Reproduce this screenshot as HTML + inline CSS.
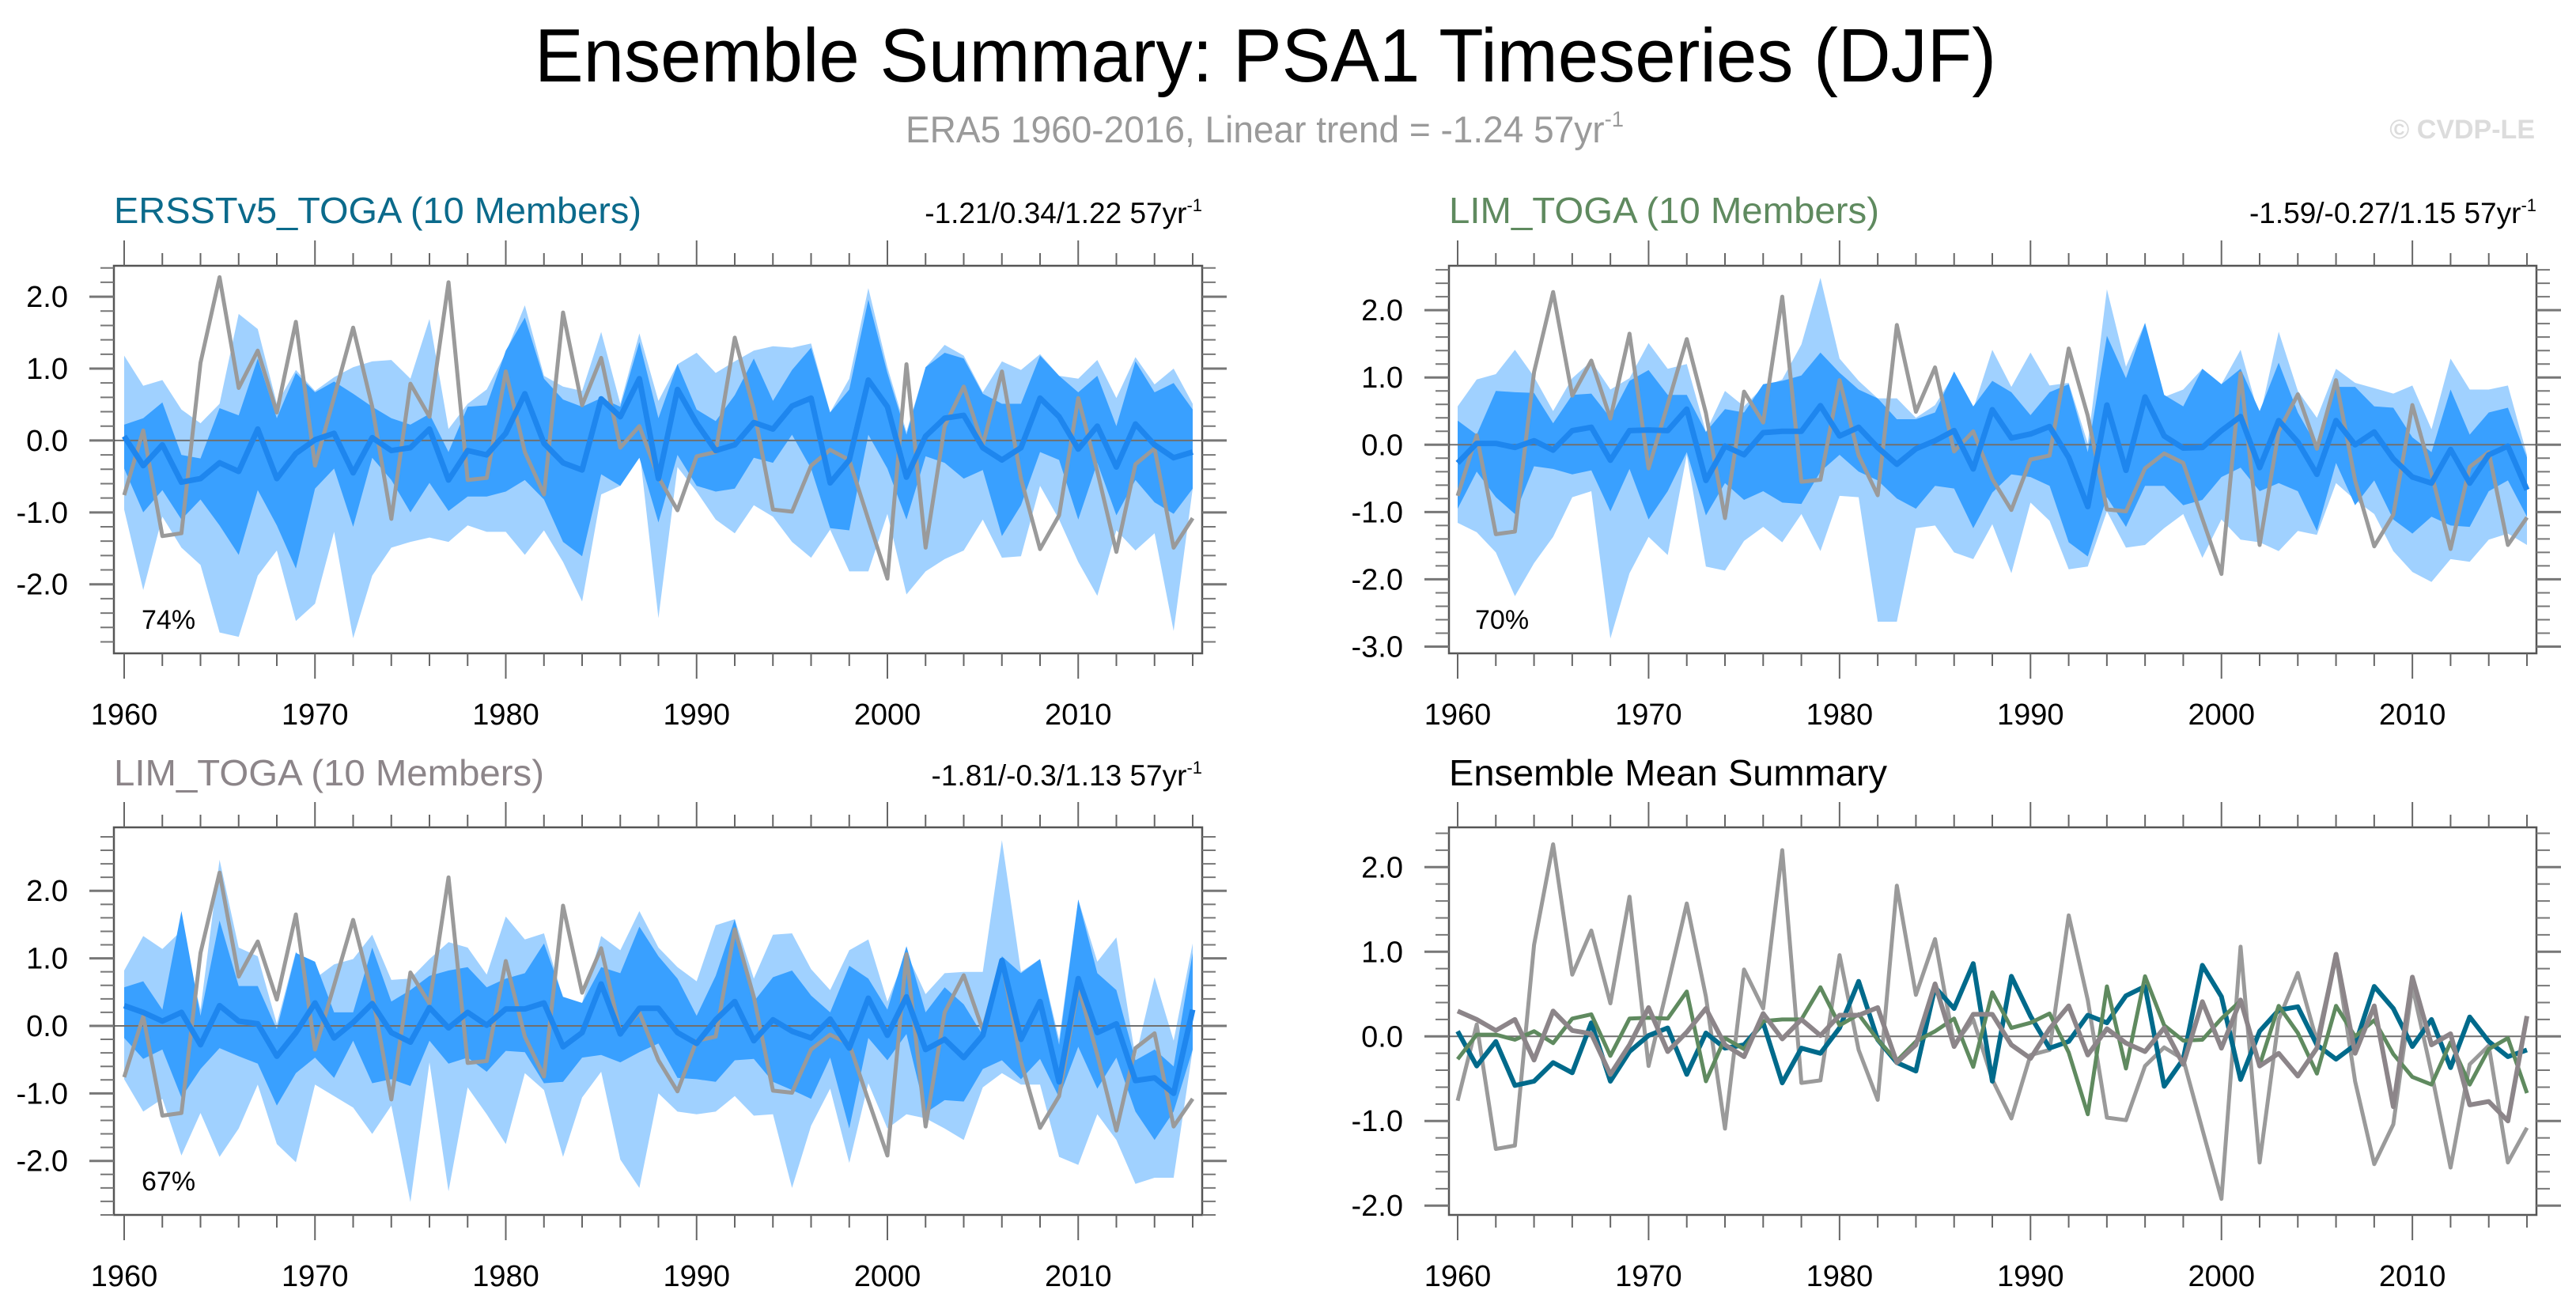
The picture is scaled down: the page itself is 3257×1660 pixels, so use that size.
<!DOCTYPE html>
<html><head><meta charset="utf-8"><title>Ensemble Summary: PSA1 Timeseries (DJF)</title>
<style>html,body{margin:0;padding:0;background:#fff;}svg{display:block;font-family:"Liberation Sans",Arial,sans-serif;}</style>
</head><body>
<svg id="fig" width="3257" height="1660" viewBox="0 0 3257 1660" xmlns="http://www.w3.org/2000/svg">
<rect x="0" y="0" width="3257" height="1660" fill="#fff"/>
<text x="676" y="103" font-size="96" textLength="1848" lengthAdjust="spacingAndGlyphs" fill="#000">Ensemble Summary: PSA1 Timeseries (DJF)</text>
<text x="1145" y="180" font-size="47" textLength="908" lengthAdjust="spacingAndGlyphs" fill="#9a9a9a">ERA5 1960-2016, Linear trend = -1.24 57yr<tspan font-size="28" dy="-20">-1</tspan></text>
<text x="3205" y="175" font-size="34" font-weight="bold" text-anchor="end" fill="#dcdcdc">© CVDP-LE</text>

<text x="144" y="282" font-size="46" textLength="667" lengthAdjust="spacingAndGlyphs" fill="#0b6a8b">ERSSTv5_TOGA (10 Members)</text>
<text x="1520" y="282" font-size="37" text-anchor="end" fill="#000">-1.21/0.34/1.22 57yr<tspan font-size="22" dy="-15">-1</tspan></text>
<text x="1832" y="282" font-size="46" textLength="544" lengthAdjust="spacingAndGlyphs" fill="#5f8a5f">LIM_TOGA (10 Members)</text>
<text x="3207" y="282" font-size="37" text-anchor="end" fill="#000">-1.59/-0.27/1.15 57yr<tspan font-size="22" dy="-15">-1</tspan></text>
<text x="144" y="993" font-size="46" textLength="544" lengthAdjust="spacingAndGlyphs" fill="#8c8589">LIM_TOGA (10 Members)</text>
<text x="1520" y="993" font-size="37" text-anchor="end" fill="#000">-1.81/-0.3/1.13 57yr<tspan font-size="22" dy="-15">-1</tspan></text>
<text x="1832" y="993" font-size="46" textLength="554" lengthAdjust="spacingAndGlyphs" fill="#000">Ensemble Mean Summary</text>
<text x="179" y="795" font-size="34" fill="#000">74%</text>
<text x="1865" y="795" font-size="34" fill="#000">70%</text>
<text x="179" y="1505" font-size="34" fill="#000">67%</text>
</svg>
<script>
const obs=[-0.76,0.14,-1.33,-1.29,1.08,2.27,0.73,1.25,0.39,1.65,-0.35,0.6,1.57,0.47,-1.09,0.79,0.33,2.2,-0.55,-0.52,0.96,-0.16,-0.75,1.78,0.49,1.15,-0.1,0.2,-0.51,-0.97,-0.22,-0.16,1.43,0.43,-0.96,-0.99,-0.35,-0.13,-0.27,-1.1,-1.92,1.06,-1.49,0.2,0.75,-0.06,0.96,-0.53,-1.51,-1.04,0.59,-0.43,-1.55,-0.33,-0.11,-1.49,-1.08];
const mean1=[0.06,-0.35,-0.06,-0.58,-0.53,-0.31,-0.43,0.16,-0.53,-0.18,0.01,0.1,-0.45,0.04,-0.14,-0.1,0.16,-0.55,-0.14,-0.2,0.1,0.65,-0.04,-0.31,-0.41,0.58,0.33,0.86,-0.53,0.71,0.24,-0.14,-0.06,0.25,0.16,0.48,0.59,-0.59,-0.27,0.84,0.47,-0.51,0.06,0.31,0.35,-0.1,-0.27,-0.1,0.59,0.33,-0.12,0.2,-0.37,0.23,-0.06,-0.24,-0.16];
const dUp1=[0.22,0.31,0.53,-0.2,-0.25,0.45,0.35,1.14,0.31,0.94,0.67,0.82,0.65,0.47,0.31,0.22,0.37,-0.16,0.47,0.49,1.25,1.71,0.86,0.57,0.47,0.59,0.47,1.37,0.31,1.06,0.43,0.27,0.63,1.14,0.55,0.98,1.29,0.39,0.71,1.96,0.94,0.08,1.02,1.22,1.14,0.65,0.51,0.51,1.18,0.9,0.67,0.9,0.2,1.1,0.67,0.8,0.43];
const dLo1=[-0.39,-1.0,-0.69,-1.1,-0.82,-1.18,-1.59,-0.69,-1.18,-1.78,-0.67,-0.39,-1.2,-0.24,-0.55,-1.0,-0.59,-0.98,-0.78,-0.78,-0.71,-0.55,-0.82,-1.41,-1.61,-0.47,-0.63,-0.24,-1.14,-0.2,-0.63,-0.71,-0.67,-0.24,-0.31,0.08,-0.39,-1.22,-1.25,0.08,-0.39,-1.1,-0.22,-0.31,-0.53,-0.41,-1.33,-0.9,-0.16,-0.27,-1.1,-0.31,-1.04,-0.55,-0.86,-1.02,-0.67];
const lUp1=[1.18,0.76,0.84,0.43,0.24,0.51,1.76,1.55,0.51,0.98,0.69,0.88,1.02,1.1,1.12,0.86,1.69,0.16,0.51,0.71,1.22,1.88,0.9,0.75,0.69,1.51,0.51,1.49,0.55,1.06,1.22,0.94,1.1,1.25,1.31,1.29,1.35,0.39,0.86,2.12,1.02,0.12,1.02,1.33,1.18,0.67,1.1,0.98,1.2,0.9,0.86,1.12,0.59,1.16,0.78,1.0,0.51];
const lLo1=[-0.96,-2.08,-1.06,-1.49,-1.73,-2.67,-2.73,-1.88,-1.53,-2.51,-2.27,-1.27,-2.75,-1.88,-1.49,-1.41,-1.35,-1.41,-1.18,-1.27,-1.27,-1.59,-1.25,-1.69,-2.24,-0.75,-0.63,-0.12,-2.47,-0.37,-0.71,-1.1,-1.29,-0.9,-1.06,-1.41,-1.63,-1.24,-1.82,-1.82,-1.02,-2.14,-1.82,-1.65,-1.53,-1.1,-1.63,-1.61,-0.63,-1.1,-1.69,-2.16,-1.25,-1.53,-1.29,-2.65,-0.67];
const mean2=[-0.27,0.02,0.02,-0.04,0.06,-0.08,0.21,0.26,-0.23,0.21,0.22,0.21,0.53,-0.53,-0.02,-0.15,0.18,0.2,0.2,0.58,0.13,0.26,-0.04,-0.29,-0.06,0.06,0.21,-0.36,0.52,0.1,0.16,0.27,-0.19,-0.92,0.59,-0.38,0.71,0.13,-0.05,-0.04,0.21,0.42,-0.34,0.36,0.04,-0.44,0.36,0,0.19,-0.21,-0.48,-0.57,-0.07,-0.57,-0.15,-0.02,-0.67];
const dUp2=[0.36,0.15,0.8,0.78,0.77,0.32,0.74,0.76,0.4,0.95,1.11,0.74,0.74,0.19,0.53,0.48,0.9,0.95,1.03,1.37,1.07,0.82,0.69,0.38,0.38,0.48,1.09,0.57,0.95,0.78,0.44,0.78,0.9,-0.11,1.62,0.99,1.81,0.74,0.57,1.13,0.9,1.13,0.5,1.22,0.48,-0.02,0.86,0.86,0.57,0.55,0.11,-0.11,0.82,0.15,0.48,0.55,-0.19];
const dLo2=[-0.95,-0.4,-0.78,-1.03,-0.32,-0.36,-0.44,-0.38,-0.99,-0.36,-1.11,-0.69,-0.11,-1.05,-0.57,-0.82,-0.69,-0.86,-0.88,-0.4,-0.15,-0.4,-0.53,-0.8,-0.95,-0.61,-0.65,-1.24,-0.71,-0.44,-0.48,-0.61,-1.45,-1.66,-0.78,-1.22,-0.61,-0.61,-0.9,-0.82,-0.48,-0.34,-0.69,-0.57,-0.69,-1.28,-0.27,-0.9,-0.53,-1.11,-1.32,-1.07,-1.2,-1.22,-0.69,-0.53,-1.07];
const lUp2=[0.57,0.97,1.05,1.41,1.01,0.5,0.99,1.24,0.82,0.99,1.51,1.13,1.2,0.19,0.8,0.57,0.86,0.97,1.49,2.48,1.28,0.95,0.69,0.69,0.4,0.59,1.05,0.53,1.41,0.86,1.37,0.88,0.92,0.02,2.31,1.16,1.81,0.71,0.82,1.13,0.9,1.41,0.4,1.68,0.8,0.4,1.13,0.92,0.84,0.76,0.88,0.23,1.28,0.82,0.82,0.88,-0.15];
const lLo2=[-1.16,-1.3,-1.6,-2.25,-1.76,-1.37,-0.78,-0.69,-2.88,-1.91,-1.37,-1.64,-0.15,-1.81,-1.87,-1.43,-1.22,-1.45,-1.03,-1.58,-0.76,-0.78,-2.63,-2.63,-1.24,-1.2,-1.6,-1.7,-1.18,-1.91,-0.86,-1.13,-1.85,-1.81,-0.99,-1.53,-1.49,-1.24,-1.03,-1.68,-1.11,-1.41,-1.45,-1.58,-1.28,-1.34,-0.57,-0.82,-1.03,-1.58,-1.89,-2.04,-1.7,-1.74,-1.41,-1.32,-1.49];
const mean3=[0.3,0.2,0.07,0.2,-0.28,0.3,0.07,0.03,-0.45,-0.1,0.34,-0.18,0.05,0.33,-0.1,-0.24,0.27,-0.03,0.2,0.01,0.25,0.25,0.34,-0.31,-0.1,0.62,-0.12,0.26,0.26,-0.1,-0.26,0.09,0.36,-0.22,0.09,-0.08,-0.18,0.1,-0.33,0.41,-0.14,0.43,-0.35,-0.2,-0.47,-0.14,0.97,-0.2,0.36,-0.83,0.7,-0.1,0.03,-0.81,-0.77,-1.0,0.24];
const dUp3=[0.57,0.66,0.24,1.7,0.15,1.56,0.59,0.59,-0.05,1.08,0.95,0.2,0.2,1.16,0.36,0.53,0.74,0.82,0.87,0.57,0.7,0.78,1.22,0.43,0.34,0.87,0.78,1.47,1.03,0.7,0.15,0.74,1.58,0.36,0.72,0.82,0.45,0.2,0.89,0.7,0.24,1.18,0.2,0.57,0.32,-0.14,1.03,0.78,0.99,-0.28,1.87,0.78,0.53,-0.51,-0.35,-0.6,1.08];
const dLo3=[-0.18,-0.49,-0.35,-1.06,-0.64,-0.33,-0.45,-0.56,-1.18,-0.7,-0.47,-0.77,-0.22,-0.85,-0.79,-0.89,-0.22,-0.56,-0.47,-0.68,-0.37,-0.39,-0.85,-0.83,-0.47,-0.43,-0.54,-0.39,-0.26,-0.77,-0.79,-0.83,-0.51,-0.49,-0.83,-0.95,-1.08,-0.47,-1.52,-0.18,-0.51,-0.12,-1.29,-1.1,-1.12,-0.64,-0.51,-0.79,-0.49,-1.06,-0.31,-0.93,-0.47,-1.27,-1.69,-1.27,-0.35];
const lUp3=[0.82,1.33,1.14,1.41,0.24,2.46,1.16,1.03,0.03,1.1,0.7,0.91,0.99,1.35,0.68,0.7,0.99,1.24,1.16,0.76,1.62,1.28,1.37,0.41,0.34,1.33,1.12,1.7,1.16,0.87,0.66,1.49,1.58,0.7,1.35,1.37,0.84,0.53,1.12,1.28,0.36,1.08,0.47,0.78,0.8,0.8,2.75,0.8,0.99,-0.2,1.87,0.95,1.31,-0.47,0.72,-0.22,1.22];
const lLo3=[-0.79,-1.27,-1.08,-1.92,-1.29,-1.94,-1.52,-0.87,-1.75,-2.02,-0.87,-1.04,-1.21,-1.6,-1.18,-2.61,-0.54,-2.45,-0.91,-1.31,-1.75,-0.7,-0.95,-1.94,-1.06,-0.68,-1.98,-2.4,-1.0,-1.27,-1.31,-1.27,-1.04,-1.33,-1.31,-2.4,-1.48,-0.93,-2.03,-0.85,-1.52,-1.31,-1.37,-1.52,-1.69,-0.91,-0.7,-0.87,-0.87,-1.94,-2.06,-1.31,-1.69,-2.34,-2.25,-2.25,-0.35];
const yearStart=1960;
const yearTicks=[1960,1970,1980,1990,2000,2010];
const yTickLabels1=["2.0","1.0","0.0","-1.0","-2.0"];
const yTickLabels2=["2.0","1.0","0.0","-1.0","-2.0","-3.0"];

const NS="http://www.w3.org/2000/svg";
const svg=document.getElementById('fig');
function mk(tag,attrs){const e=document.createElementNS(NS,tag);for(const k in attrs)e.setAttribute(k,attrs[k]);svg.appendChild(e);return e;}

function panel(p){
  const xS=yr=>p.x0+(yr-yearStart)*(p.x1-p.x0)/56;
  const yS=v=>p.top+(p.yTop-v)*(p.bot-p.top)/(p.yTop-p.yBot);
  const pts=arr=>arr.map((v,i)=>xS(yearStart+i).toFixed(1)+','+yS(v).toFixed(1)).join(' ');
  const band=(up,lo)=>pts(up)+' '+lo.map((v,i)=>[xS(yearStart+i),yS(v)]).reverse().map(q=>q[0].toFixed(1)+','+q[1].toFixed(1)).join(' ');
  if(p.lUp){
    const lb=mk('polygon',{points:band(p.lUp,p.lLo),fill:'#a0d1ff'});
    
    
    const db=mk('polygon',{points:band(p.dUp,p.dLo),fill:'#39a0ff'});
    
    
  }
  const z=mk('line',{x1:p.fl,x2:p.fr,y1:yS(0),y2:yS(0),stroke:'#707070','stroke-width':2});
  
  
  p.lines.forEach(L=>{
    const pl=mk('polyline',{points:pts(L.data),fill:'none',stroke:L.color,'stroke-width':L.w,'stroke-linejoin':'round'});
    
    
  });
  const fr=mk('rect',{x:p.fl,y:p.top,width:p.fr-p.fl,height:p.bot-p.top,fill:'none',stroke:'#555','stroke-width':2.5});
  
  
  // x ticks
  for(let yr=1960;yr<=2016;yr+=2){
    const major=yearTicks.includes(yr);const L=major?32:16;const x=xS(yr);
    const t1=mk('line',{x1:x,x2:x,y1:p.top,y2:p.top-L,stroke:'#666','stroke-width':2});
    
    
    const t2=mk('line',{x1:x,x2:x,y1:p.bot,y2:p.bot+L,stroke:'#666','stroke-width':2});
    
    
  }
  yearTicks.forEach(yr=>{
    const t=mk('text',{x:xS(yr),y:p.bot+90,'font-size':38,'text-anchor':'middle',fill:'#000'});
    t.textContent=String(yr);
    
    
  });
  // y ticks
  for(let k=Math.ceil(p.yBot*5);k<=Math.floor(p.yTop*5);k++){
    const v=k/5;const major=(k%5===0);const L=major?31:17;const y=yS(v);
    const a=mk('line',{x1:p.fl,x2:p.fl-L,y1:y,y2:y,stroke:'#777','stroke-width':major?3:2});
    
    
    const b=mk('line',{x1:p.fr,x2:p.fr+L,y1:y,y2:y,stroke:'#777','stroke-width':major?3:2});
    
    
  }
  p.yLabels.forEach(s=>{
    const t=mk('text',{x:p.fl-58,y:yS(parseFloat(s))+13,'font-size':38,'text-anchor':'end',fill:'#000'});
    t.textContent=s;
    
    
  });
}
const obsLine={data:obs,color:'#9a9a9a',w:5,name:'observed-line'};
panel({id:'panel1',fl:144,fr:1520,top:336,bot:826,x0:157,x1:1508,yTop:2.43,yBot:-2.96,lUp:lUp1,lLo:lLo1,dUp:dUp1,dLo:dLo1,yLabels:yTickLabels1,
  lines:[obsLine,{data:mean1,color:'#1e86ee',w:7,name:'ensemble-mean-line'}]});
panel({id:'panel2',fl:1832,fr:3207,top:336,bot:826,x0:1843,x1:3195,yTop:2.66,yBot:-3.10,lUp:lUp2,lLo:lLo2,dUp:dUp2,dLo:dLo2,yLabels:yTickLabels2,
  lines:[obsLine,{data:mean2,color:'#1e86ee',w:7,name:'ensemble-mean-line'}]});
panel({id:'panel3',fl:144,fr:1520,top:1046,bot:1536,x0:157,x1:1508,yTop:2.94,yBot:-2.80,lUp:lUp3,lLo:lLo3,dUp:dUp3,dLo:dLo3,yLabels:yTickLabels1,
  lines:[obsLine,{data:mean3,color:'#1e86ee',w:7,name:'ensemble-mean-line'}]});
panel({id:'panel4',fl:1832,fr:3207,top:1046,bot:1536,x0:1843,x1:3195,yTop:2.47,yBot:-2.11,yLabels:yTickLabels1,
  lines:[obsLine,{data:mean1,color:'#006a8b',w:6,name:'ersstv5-mean-line'},{data:mean2,color:'#5f8a5f',w:5,name:'lim-toga-green-mean-line'},{data:mean3,color:'#8c8589',w:6,name:'lim-toga-gray-mean-line'}]});
</script>
</body></html>
